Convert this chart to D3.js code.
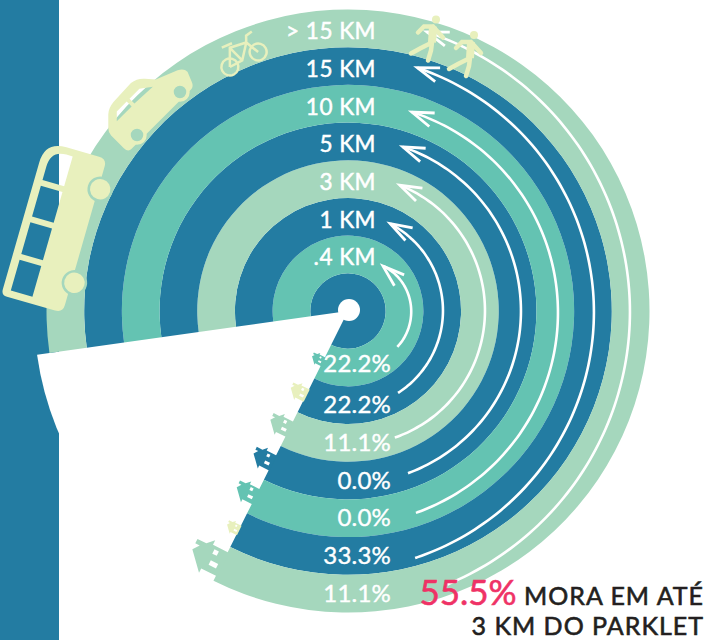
<!DOCTYPE html>
<html>
<head>
<meta charset="utf-8">
<script src="https://cdn.jsdelivr.net/npm/d3@7"></script>
<style>
	html, body { margin: 0; padding: 0; background: #fff; }
	svg { display: block; }
	text { font-family: Lato, sans-serif; }
</style>
</head>
<body>
<svg id="chart" width="708" height="640"></svg>
<script>
// Data, innermost ring first
var distances = ['.4 KM', '1 KM', '3 KM', '5 KM', '10 KM', '15 KM', '> 15 KM'],
	shares = [22.2, 22.2, 11.1, 0.0, 0.0, 33.3, 11.1],
	ringColors = ['#64c3b2', '#237ca2', '#a5d7bd', '#237ca2', '#64c3b2', '#237ca2', '#a5d7bd'],
	houseColors = ['#64c3b2', '#e8f0bd', '#a5d7bd', '#237ca2', '#64c3b2', '#e8f0bd', '#a5d7bd'],
	houseSizes = [0.6, 0.85, 1.05, 1.05, 1.05, 0.65, 1.65];

// Arrows: angle in degrees clockwise from the top, radius at tail, middle and tip
var arrowTailAngle = [126, 148.6, 159.7, 159.7, 161.4, 164.8, 160],
	arrowTipAngle = [38, 25.8, 22.4, 18.5, 17.8, 15.9, 15.8],
	arrowTailRadius = [61, 96, 135, 173, 213, 256, 291],
	arrowMidRadius = [63, 95, 137, 173, 210, 246, 282],
	arrowTipRadius = [57, 97, 136, 173, 209, 253, 290];

var cx = 348, cy = 311,
	colors = { bar: '#237ca2', pale: '#e8f0bd', green: '#a5d7bd', pink: '#ef3266', dark: '#231f20' };

var svg = d3.select('#chart');

// Ring scale: 0..1 is the centre disc, 1..8 are the rings
var r = d3.scaleLinear().domain([0, 8]).range([0, 301.5]);

// Left bar sits behind everything
svg.append('rect').attr('x', 0).attr('y', 0).attr('width', 59).attr('height', 640).attr('fill', colors.bar);

var g = svg.append('g').attr('transform', 'translate(' + cx + ',' + cy + ')');

var startAngle = -(90 + 8) * Math.PI / 180,
	endAngle = (180 + 26.5) * Math.PI / 180;
var arc = d3.arc();

// White wedge cuts through the bar
g.append('path')
	.attr('d', arc({ innerRadius: 0, outerRadius: 314, startAngle: endAngle - 2 * Math.PI, endAngle: startAngle }))
	.attr('fill', '#fff');

// Centre disc and rings
g.append('path')
	.attr('fill', colors.bar)
	.attr('d', arc({ innerRadius: 0, outerRadius: r(1), startAngle: startAngle, endAngle: endAngle }));

g.selectAll('.ring')
	.data(distances)
	.enter().append('path')
	.attr('class', 'ring')
	.attr('fill', function(d, i) { return ringColors[i]; })
	.attr('d', function(d, i) {
		return arc({ innerRadius: r(i + 1), outerRadius: r(i + 2), startAngle: startAngle, endAngle: endAngle });
	});

g.append('circle').attr('cx', 1).attr('cy', -1).attr('r', 11).attr('fill', '#fff');

// Bus, windows are holes so the bar shows through
var bus = svg.append('g').attr('transform', 'translate(54,227) rotate(16)');
bus.append('path')
	.attr('fill-rule', 'evenodd')
	.attr('fill', colors.pale)
	.attr('d', 'M-32,-58Q-32,-80 -10,-80L24,-80Q32,-80 32,-72L32,72Q32,80 24,80L-26,80Q-32,80 -32,74Z'
		+ 'M-24,-42L-1.5,-42L-1.5,-73L-8,-73Q-24,-73 -24,-56Z'
		+ 'M-24,-36L-1.5,-36L-1.5,-4L-24,-4Z'
		+ 'M-24,2L-1.5,2L-1.5,35L-24,35Z'
		+ 'M-24,41L-1.5,41L-1.5,73L-24,73Z');
[[34, -49], [35, 48]].forEach(function(c) {
	bus.append('circle').attr('cx', c[0]).attr('cy', c[1]).attr('r', 11.5).attr('fill', colors.pale).attr('stroke', colors.green).attr('stroke-width', 2.5);
});

// Car
var car = svg.append('g').attr('transform', 'translate(158.5,113.5) rotate(-45)');
car.append('path')
	.attr('fill-rule', 'evenodd')
	.attr('fill', colors.pale)
	.attr('d', 'M-44,6Q-49,6 -49,0L-49,-18Q-49,-22 -46,-25L-36,-35Q-32,-39 -24,-40L2,-41Q10,-40 15,-34L22,-26L44,-17Q50,-14 50,-9L46,1Q44,6 40,6Z'
		+ 'M-35,-24L-28,-31L-14,-31L-14,-24Z'
		+ 'M-10,-24L-10,-31L4,-31L15,-23Z');
[[-30.4, 0], [30.4, 0]].forEach(function(c) {
	car.append('circle').attr('cx', c[0]).attr('cy', c[1]).attr('r', 8).attr('fill', colors.green).attr('stroke', colors.pale).attr('stroke-width', 3.5);
});

// Bike
var bike = svg.append('g').attr('transform', 'translate(244,59.5) rotate(-28)').attr('fill', 'none').attr('stroke', colors.pale).attr('stroke-width', 2.5);
bike.append('circle').attr('cx', -16).attr('cy', 0).attr('r', 8.5);
bike.append('circle').attr('cx', 16).attr('cy', 0).attr('r', 8.5);
bike.append('path').attr('d', 'M-16,0L-7,-17L10,-14L16,0M-16,0L-2,0L10,-14M-2,0L-7,-17M-14,-21L-3,-20M10,-14L13,-20L20,-21');

// Walkers, origin is the head
function walker(x, y, s) {
	var w = svg.append('g').attr('transform', 'translate(' + x + ',' + y + ') scale(' + s + ')');
	w.append('circle').attr('r', 4).attr('fill', colors.pale);
	w.append('path')
		.attr('d', 'M-3,7L-12,7L-18,13M-3,7L7,18M-4,23L-16,29L-25,34M-4,23L-5,31L-8,41')
		.attr('fill', 'none').attr('stroke', colors.pale).attr('stroke-width', 4.5).attr('stroke-linecap', 'round');
	w.append('path')
		.attr('d', 'M-3,7L-4,23')
		.attr('fill', 'none').attr('stroke', colors.pale).attr('stroke-width', 8);
}
walker(436, 19.5, 1);
walker(474, 35, 1);

// Arrows
var arrowLine = d3.lineRadial().curve(d3.curveBasis);
var toRad = Math.PI / 180;
g.selectAll('.arrow')
	.data(distances)
	.enter().append('path')
	.attr('class', 'arrow')
	.attr('fill', 'none')
	.attr('stroke', '#fff')
	.attr('stroke-width', 2.6)
	.attr('d', function(d, i) {
		// radius eased through the three read-off radii
		var tail = arrowTailRadius[i], mid = arrowMidRadius[i], tip = arrowTipRadius[i];
		var pts = d3.range(0, 61).map(function(k) {
			var t = k / 60,
				rad = tail * (1 - t) * (1 - 2 * t) + 4 * mid * t * (1 - t) + tip * t * (2 * t - 1);
			return [(arrowTailAngle[i] + (arrowTipAngle[i] - arrowTailAngle[i]) * t) * toRad, rad];
		});
		return arrowLine(pts);
	});

// Arrow heads
g.selectAll('.head')
	.data(distances)
	.enter().append('path')
	.attr('class', 'head')
	.attr('fill', 'none')
	.attr('stroke', '#fff')
	.attr('stroke-width', 2.8)
	.attr('transform', function(d, i) {
		return 'rotate(' + arrowTipAngle[i] + ') translate(0,' + (-arrowTipRadius[i]) + ')';
	})
	.attr('d', 'M22,-6L0,0L21,8.5');

// Distance labels, a thin stroke gives the medium weight
g.selectAll('.dist')
	.data(distances)
	.enter().append('text')
	.attr('class', 'dist')
	.attr('x', 28)
	.attr('y', function(d, i) { return -r(i + 1.5) + 11; })
	.attr('text-anchor', 'end')
	.attr('fill', '#fff')
	.attr('stroke', '#fff')
	.attr('stroke-width', 0.5)
	.attr('font-size', 22.5)
	.attr('letter-spacing', 0.5)
	.text(function(d) { return d; });

// Share labels
g.selectAll('.share')
	.data(shares)
	.enter().append('text')
	.attr('class', 'share')
	.attr('x', 43)
	.attr('y', function(d, i) { return r(i + 1.5) + (i == 0 ? 4.5 : 8); })
	.attr('text-anchor', 'end')
	.attr('fill', '#fff')
	.attr('stroke', '#fff')
	.attr('stroke-width', 0.4)
	.attr('font-size', 24)
	.attr('letter-spacing', 0.2)
	.text(function(d) { return d.toFixed(1) + '%'; });

// Houses stand on the cut end of each ring
var house = 'M-8,1L-8,-10L-11,-10L0,-20L4,-17L4,-20L7,-20L7,-14L11,-10L8,-10L8,1Z';
var houseG = g.selectAll('.house')
	.data(houseColors)
	.enter().append('g')
	.attr('class', 'house')
	.attr('transform', function(d, i) {
		var rad = r(i + 1.5);
		return 'translate(' + (Math.sin(endAngle) * rad) + ',' + (-Math.cos(endAngle) * rad) + ') rotate(-63.5) scale(' + houseSizes[i] + ')';
	});
houseG.append('path').attr('d', house).attr('fill', function(d) { return d; });
houseG.append('rect').attr('x', -4).attr('y', -7).attr('width', 3).attr('height', 5).attr('fill', '#fff');
houseG.append('rect').attr('x', 3).attr('y', -8).attr('width', 3).attr('height', 3).attr('fill', '#fff');

// Headline
var note = svg.append('text').attr('text-anchor', 'end').attr('x', 704).attr('y', 605)
	.attr('font-size', 25).attr('fill', colors.dark).attr('stroke', colors.dark).attr('stroke-width', 0.6).attr('letter-spacing', 1);
note.append('tspan').attr('font-size', 35).attr('fill', colors.pink).attr('stroke', colors.pink).attr('letter-spacing', 0).text('55.5%');
note.append('tspan').text(' MORA EM ATÉ');
svg.append('text').attr('text-anchor', 'end').attr('x', 704).attr('y', 635)
	.attr('font-size', 25).attr('fill', colors.dark).attr('stroke', colors.dark).attr('stroke-width', 0.6).attr('letter-spacing', 1)
	.text('3 KM DO PARKLET');
</script>
</body>
</html>
